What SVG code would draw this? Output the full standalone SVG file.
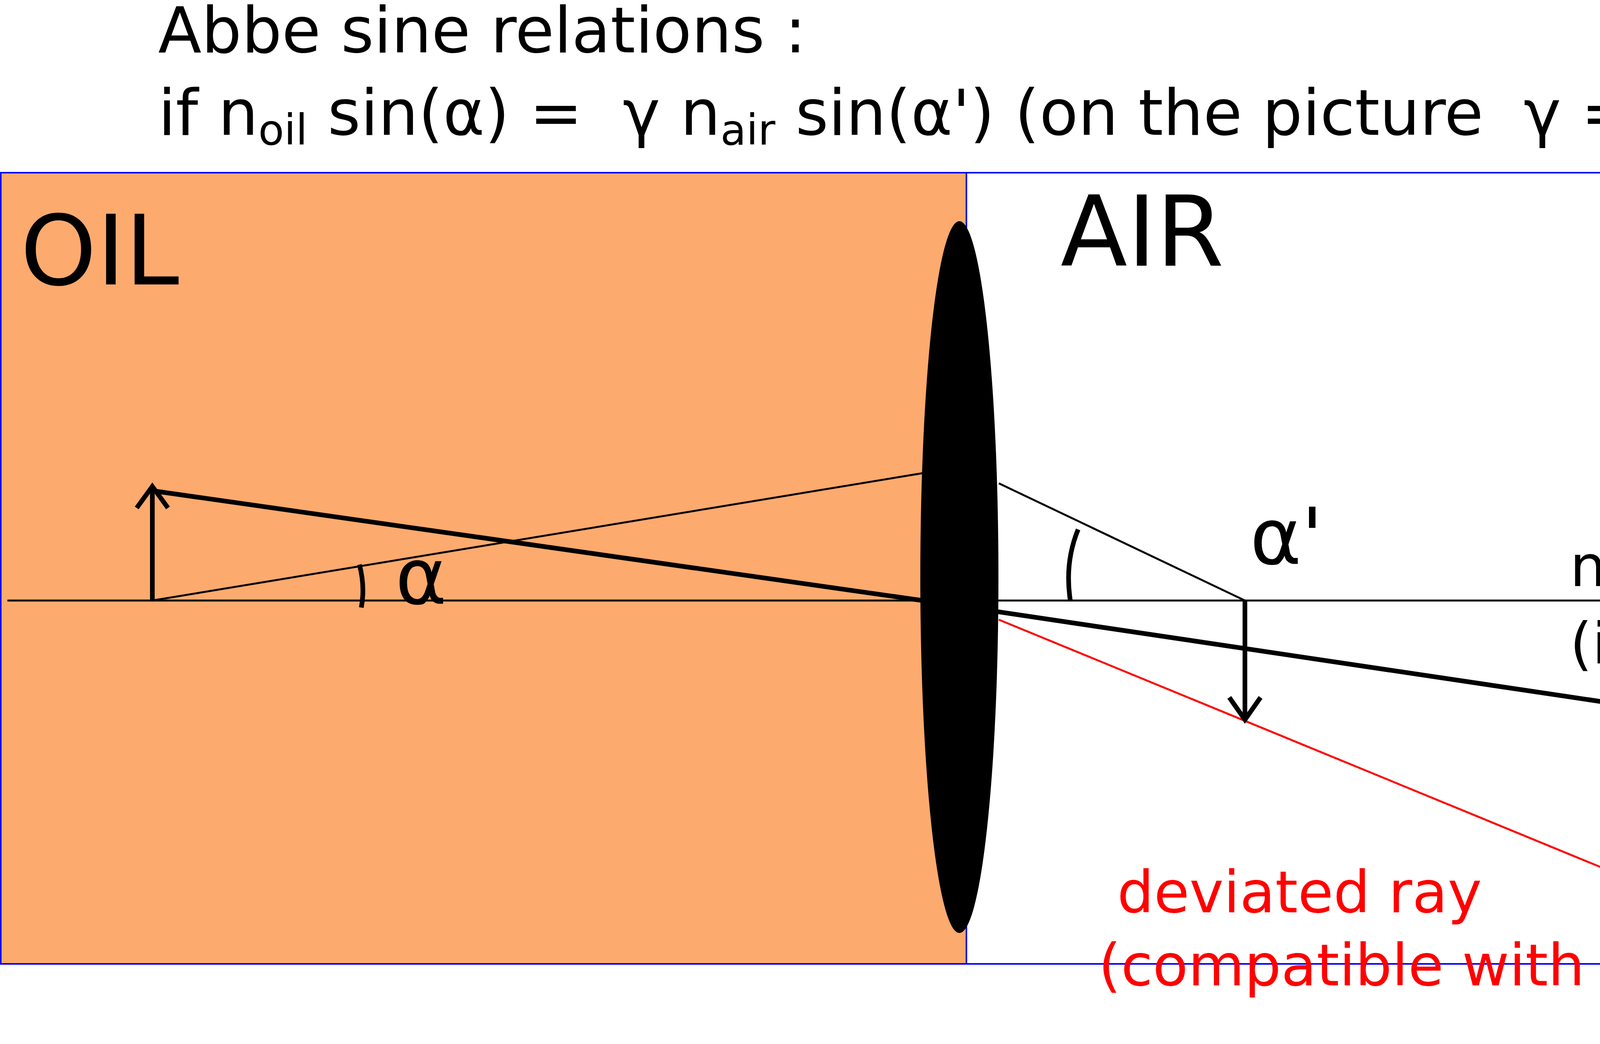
<svg xmlns="http://www.w3.org/2000/svg" width="5878" height="2672" viewBox="0 0 5878 2672">
<style>
text{font-family:"DejaVu Sans","Liberation Sans",sans-serif;fill:#000}
.thin{stroke:#000;stroke-width:5;fill:none}
.thick{stroke:#000;stroke-width:12;fill:none}
</style>
<rect width="5878" height="2672" fill="#fff"/>
<g id="oil"><rect x="2" y="442" width="2472" height="2025" fill="#fdaa6e" stroke="#00f" stroke-width="4"/><text x="52" y="728" font-size="248">OIL</text></g>
<g id="air"><rect x="2474" y="442" width="2475" height="2025" fill="none" stroke="#00f" stroke-width="4"/><text x="2715" y="680" font-size="250">AIR</text></g>
<g id="title"><text x="405" y="134" font-size="162">Abbe sine relations :</text>
<text x="405" y="345" font-size="162">if n<tspan font-size="108" dy="25">oil</tspan><tspan dy="-25"> sin(α) =&#160; γ n</tspan><tspan font-size="108" dy="25">air</tspan><tspan dy="-25"> sin(α') (on the picture&#160; γ = 1)</tspan></text></g>
<g id="connectors">
<line class="thin" x1="19" y1="1537" x2="5140" y2="1537"/>
<line class="thin" x1="390" y1="1537" x2="2362" y2="1211"/>
<line class="thin" x1="2557" y1="1237" x2="3187" y2="1537"/>
<line x1="2557" y1="1586" x2="5192" y2="2669" stroke="#f00" stroke-width="5"/>
<polyline class="thick" points="390,1256 2362,1537 5586,2017"/>
<path class="thick" d="M390,1537 L390,1245"/>
<path d="M350,1300 L390,1245 L430,1300" class="thick"/>
<path class="thick" d="M3187,1537 L3187,1840"/>
<path d="M3147,1785 L3187,1842 L3227,1785" class="thick"/>
<path class="thick" d="M920,1445 Q935,1500 925,1555"/>
<path class="thick" d="M2760,1355 Q2725,1440 2740,1537"/>
</g>
<g id="lens"><ellipse cx="2456" cy="1477" rx="100" ry="911" fill="#000"/></g>
<g id="labels">
<text x="1012" y="1545" font-size="200">α</text>
<text x="3200" y="1443" font-size="200">α'</text>
<text x="4019" y="1500" font-size="146">non deviated ray</text>
<text x="4019" y="1698" font-size="146">(incompatible with Abbe)</text>
<text x="2860" y="2335" font-size="148" style="fill:#f00">deviated ray</text>
<text x="2812" y="2522" font-size="148" style="fill:#f00">(compatible with Abbe)</text>
</g>
</svg>
